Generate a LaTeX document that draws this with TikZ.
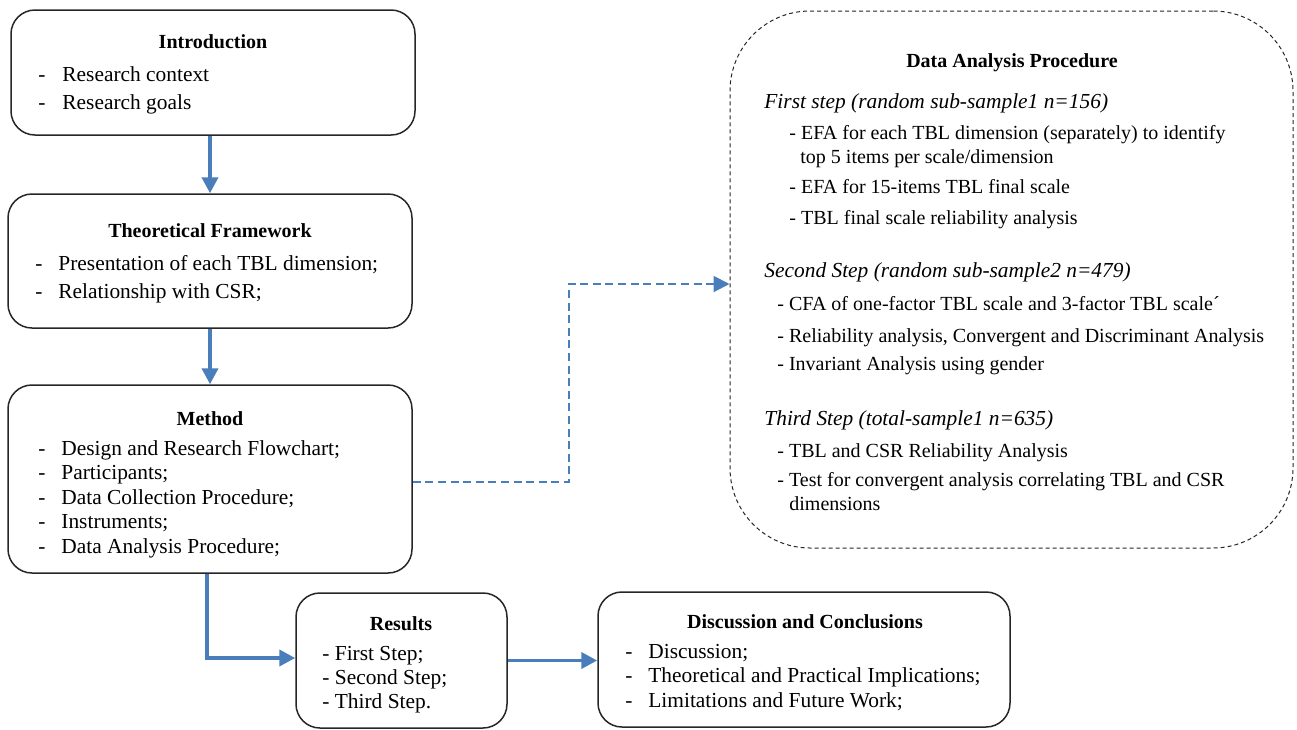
\documentclass[tikz,border=0pt]{standalone}
\usepackage{fontspec}
\setmainfont{Liberation Serif}
\usetikzlibrary{arrows.meta}
\definecolor{flowblue}{HTML}{4A7EBB}
\tikzset{
  block/.style={draw=black!85,line width=0.75pt,rounded corners=12pt},
  dblock/.style={draw=black!85,line width=0.5pt,dash pattern=on 2pt off 1.5pt,rounded corners=40pt},
  txt/.style={anchor=base west,inner sep=0pt},
  small/.style={txt,font=\fontsize{10pt}{12pt}\selectfont},
  ttl/.style={anchor=base,inner sep=0pt,font=\bfseries},
  flow/.style={draw=flowblue,line width=1.9pt,-{Triangle[length=8pt,width=8pt]}},
  dflow/.style={flow,line width=1pt,dash pattern=on 4pt off 2.3pt}
}
\newcommand{\block}[5]{\node[block,minimum width=#4*0.5pt,minimum height=#5*0.5pt] (#1) at (#2,#3) {};}
\newcommand{\dblock}[5]{\node[dblock,minimum width=#4*0.5pt,minimum height=#5*0.5pt] (#1) at (#2,#3) {};}
\newcommand{\heading}[4]{\node[ttl] (#1) at (#2,#3) {#4};}
\newcommand{\txt}[4]{\node[txt] (#1) at (#2,#3) {#4};}
\newcommand{\stxt}[4]{\node[small] (#1) at (#2,#3) {#4};}
\newcommand{\dashtxt}[5]{\node[txt] (#1-d) at (#2,#4) {-};\node[txt] (#1) at (#3,#4) {#5};}
\newcommand{\link}[2]{\draw[flow] (#1) -- (#2);}

\begin{document}
\begin{tikzpicture}[x=0.5pt,y=-0.5pt,font=\fontsize{10.7pt}{13pt}\selectfont]
    \useasboundingbox (0,0) rectangle (1297,729);
    \block{intro}{213}{72.5}{404}{125}    \block{theory}{210}{261}{404}{134}
    \block{method}{210}{479}{404}{188}    \block{results}{401.5}{660.5}{211}{135}
    \block{concl}{804}{659.5}{412}{135}   \dblock{proc}{1011.5}{279.5}{563}{537}
    \heading{introT}{213}{48}{Introduction}
    \dashtxt{intro1}{38}{62}{81}{Research context}
    \dashtxt{intro2}{38}{62}{109}{Research goals}
    \heading{theoryT}{210}{237}{Theoretical Framework}
    \dashtxt{theory1}{35}{58}{270}{Presentation of each TBL dimension;}
    \dashtxt{theory2}{35}{58}{298}{Relationship with CSR;}
    \heading{methodT}{210}{425}{Method}
    \dashtxt{method1}{38}{61}{455}{Design and Research Flowchart;}
    \dashtxt{method2}{38}{61}{479}{Participants;}
    \dashtxt{method3}{38}{61}{504}{Data Collection Procedure;}
    \dashtxt{method4}{38}{61}{528}{Instruments;}
    \dashtxt{method5}{38}{61}{553}{Data Analysis Procedure;}
    \heading{resultsT}{401}{630}{Results}
    \txt{results1}{322}{660}{- First Step;}
    \txt{results2}{322}{684}{- Second Step;}
    \txt{results3}{322}{708}{- Third Step.}
    \heading{conclT}{805}{628}{Discussion and Conclusions}
    \dashtxt{concl1}{625}{648}{658}{Discussion;}
    \dashtxt{concl2}{625}{648}{682}{Theoretical and Practical Implications;}
    \dashtxt{concl3}{625}{648}{707}{Limitations and Future Work;}
    \heading{procT}{1012}{67}{Data Analysis Procedure}
    \txt{first}{764}{108}{\textit{First step (random sub-sample1 n=156)}}
    \stxt{first1}{789}{139}{- EFA for each TBL dimension (separately) to identify}
    \stxt{first1b}{800}{163}{top 5 items per scale/dimension}
    \stxt{first2}{789}{193}{- EFA for 15-items TBL final scale}
    \stxt{first3}{789}{224}{- TBL final scale reliability analysis}
    \txt{second}{764}{277}{\textit{Second Step (random sub-sample2 n=479)}}
    \stxt{second1}{777}{310}{- CFA of one-factor TBL scale and 3-factor TBL scale´}
    \stxt{second2}{777}{342}{- Reliability analysis, Convergent and Discriminant Analysis}
    \stxt{second3}{777}{370}{- Invariant Analysis using gender}
    \txt{third}{764}{425}{\textit{Third Step (total-sample1 n=635)}}
    \stxt{third1}{777}{457}{- TBL and CSR Reliability Analysis}
    \stxt{third2}{777}{486}{- Test for convergent analysis correlating TBL and CSR}
    \stxt{third2b}{789}{510}{dimensions}
    \coordinate (turn) at (569,284);
    \draw[flow] (intro.south -| theory.north) -- (theory.north);
    \link{theory.south}{method.north}
    \draw[flow] ([xshift=-1.5pt]method.south) |- ([yshift=1.25pt]results.west);
    \draw[flow] (results.east) -- (results.east -| concl.west);
    \draw[dflow] ([yshift=-1.5pt]method.east) -| (turn) -- (turn -| proc.west);
\end{tikzpicture}
\end{document}
